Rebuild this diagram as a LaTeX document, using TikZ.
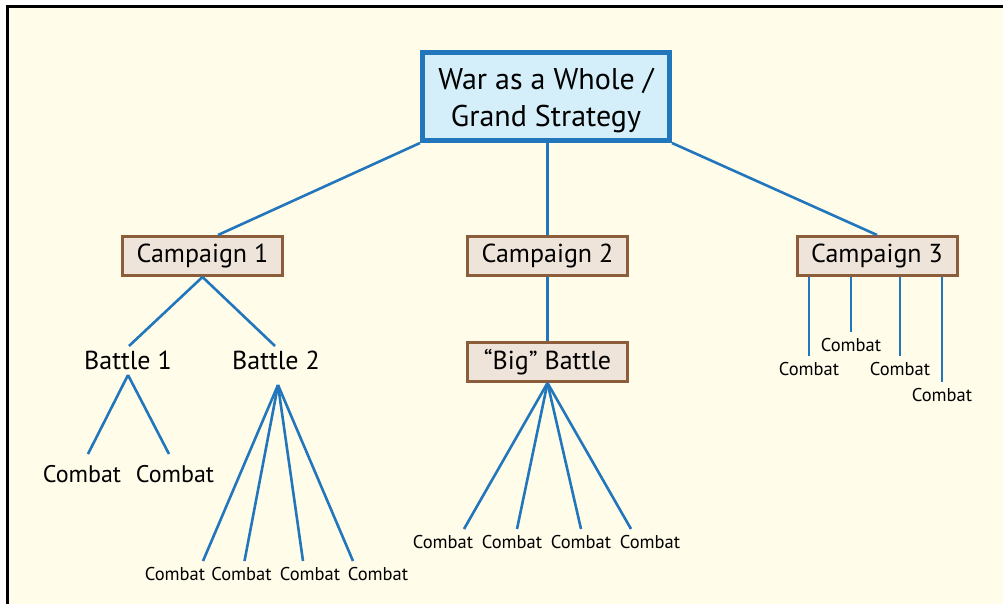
\documentclass[tikz,border=0pt]{standalone}
\usepackage{fontspec}
\setmainfont{PT Sans}
\definecolor{cream}{HTML}{FFFCEA}
\definecolor{lineblue}{HTML}{2176BC}
\definecolor{topfill}{HTML}{D4EEFA}
\definecolor{brownline}{HTML}{8C5D3B}
\definecolor{brownfill}{HTML}{EFE4DA}
\begin{document}
\begin{tikzpicture}[x=1pt,y=-1pt,
  conn/.style={draw=lineblue,line width=2.6pt},
  topbox/.style={draw=lineblue,fill=topfill,line width=5pt,minimum width=247pt,minimum height=88pt,align=center,inner sep=0pt,font=\fontsize{30}{37}\selectfont},
  campbox/.style={draw=brownline,fill=brownfill,line width=3pt,minimum width=160pt,minimum height=39pt,inner sep=0pt,font=\fontsize{26}{30}\selectfont},
  battle/.style={anchor=base,inner sep=0pt,font=\fontsize{26}{30}\selectfont},
  bigcombat/.style={anchor=base,inner sep=0pt,text height=17pt,outer sep=11pt,font=\fontsize{24}{28}\selectfont},
  smallcombat/.style={anchor=base,inner sep=0pt,text height=13pt,outer sep=6pt,font=\fontsize{18.5}{22}\selectfont}]
\useasboundingbox (0,0) rectangle (1003,604);
\fill[white] (0,0) rectangle (1003,604);
\draw[fill=cream,line width=3pt] (7.5,6.5) rectangle (1015,620);

\node[topbox] (war) at (546,96.5) {\rule{0pt}{30pt}War as a Whole /\\Grand Strategy};
\node[campbox] (c1) at (202.5,256) {Campaign 1};
\node[campbox] (c2) at (547.5,256) {Campaign 2};
\node[campbox] (c3) at (877,256) {Campaign 3};
\node[campbox] (big) at (547.5,362) {“Big” Battle};

\node[battle] (b1) at (128,369) {Battle 1};
\node[battle] (b2) at (276,369) {Battle 2};

% Battle 1 combats
\node[bigcombat] (k11) at (82,482) {Combat};
\node[bigcombat] (k12) at (175,482) {Combat};
% Battle 2 combats
\node[smallcombat] (k21) at (175,580) {Combat};
\node[smallcombat] (k22) at (241.5,580) {Combat};
\node[smallcombat] (k23) at (310,580) {Combat};
\node[smallcombat] (k24) at (378,580) {Combat};
% Big battle combats
\node[smallcombat] (k31) at (443,548) {Combat};
\node[smallcombat] (k32) at (512,548) {Combat};
\node[smallcombat] (k33) at (581,548) {Combat};
\node[smallcombat] (k34) at (650,548) {Combat};
% Campaign 3 combats
\node[smallcombat] (k41) at (809,375) {Combat};
\node[smallcombat] (k42) at (851,351) {Combat};
\node[smallcombat] (k43) at (900,375) {Combat};
\node[smallcombat] (k44) at (942,401) {Combat};

% connectors
\draw[conn] (war.south west) -- ([xshift=15.5pt]c1.north);
\draw[conn] (war.south -| c2.north) -- (c2.north);
\draw[conn] (war.south east) -- (c3.north);
\draw[conn] (c2.south) -- (big.north);

\draw[conn] (c1.south) -- ([xshift=1pt,yshift=23pt]b1.base);
\draw[conn] (c1.south) -- ([xshift=-1pt,yshift=23pt]b2.base);

\draw[conn] ([yshift=-6pt]b1.base) -- ([xshift=6pt]k11.north);
\draw[conn] ([yshift=-6pt]b1.base) -- ([xshift=-6pt]k12.north);

\foreach \k/\s in {k21/28,k22/3,k23/-7,k24/-25}
  \draw[conn] ([xshift=2pt,yshift=-16pt]b2.base) -- ([xshift=\s pt]\k.north);
\foreach \k/\s in {k31/21,k32/5,k33/0,k34/-19}
  \draw[conn] (big.south) -- ([xshift=\s pt]\k.north);
\foreach \k in {k41,k42,k43,k44}
  \draw[conn] (c3.south -| \k.north) -- (\k.north);
\end{tikzpicture}
\end{document}
